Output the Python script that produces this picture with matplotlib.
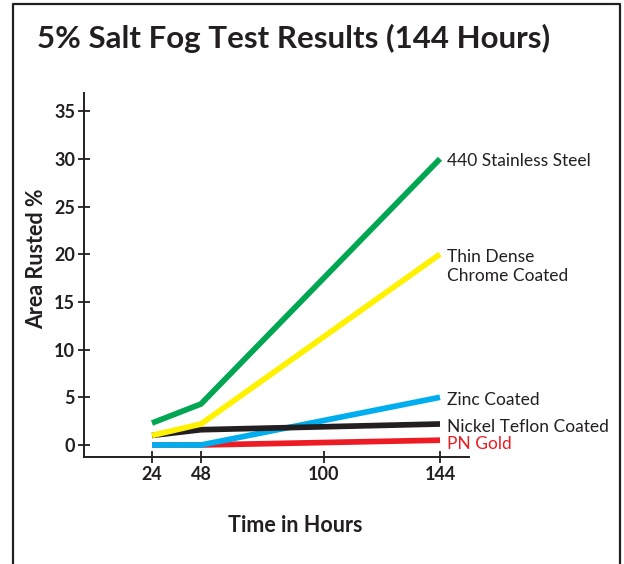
import sys
import numpy as np
import matplotlib
matplotlib.use("Agg")
import matplotlib.pyplot as plt
from matplotlib.lines import Line2D

plt.rcParams['font.family'] = ['Lato', 'DejaVu Sans']

# datos
horas = [24, 48, 144]
acero_440 = [2.3, 4.3, 30]
cromo = [1.0, 2.2, 20]
zinc = [0.0, 0.0, 5.0]
niquel = [1.0, 1.6, 2.2]
pn_oro = [0.0, 0.0, 0.5]

ticks_x = [24, 48, 100, 144]
ticks_y = [0, 5, 10, 15, 20, 25, 30, 35]

series = [
    ("PN Gold", pn_oro, '#ed1c24'),
    ("Zinc Coated", zinc, '#00aeef'),
    ("Nickel Teflon Coated", niquel, '#231f20'),
    ("Thin Dense\nChrome Coated", cromo, '#fff200'),
    ("440 Stainless Steel", acero_440, '#00a651'),
]

TXT = '#231f20'
W, H = 624, 564

# el eje x no es lineal en el original: escala por tramos
HK = np.array([24., 48., 100., 144.])
PK = np.array([152., 201., 324., 440.])


def _tramos(v, xs, ys):
    v = np.asarray(v, dtype=float)
    out = np.interp(v, xs, ys)
    sl = (ys[1] - ys[0]) / (xs[1] - xs[0])
    sr = (ys[-1] - ys[-2]) / (xs[-1] - xs[-2])
    izq = v < xs[0]
    der = v > xs[-1]
    out = np.where(izq, ys[0] + (v - xs[0]) * sl, out)
    out = np.where(der, ys[-1] + (v - xs[-1]) * sr, out)
    return out


def fwd(v):
    return _tramos(v, HK, PK)


def inv(v):
    return _tramos(v, PK, HK)


fig = plt.figure(figsize=(W / 100, H / 100), dpi=100)
ax = fig.add_axes([84 / W, 1 - 457 / H, (469 - 84) / W, (457 - 93) / H])
ax.set_xscale('function', functions=(fwd, inv))

for nombre, vals, color in series:
    ax.plot(horas, vals, color=color, lw=4.1, solid_capstyle='butt', clip_on=False)

ax.set_xlim(inv(84), inv(469))
ax.set_ylim(-1.26, 36.9)
ax.set_xticks(ticks_x)
ax.set_xticklabels([str(t) for t in ticks_x])
ax.set_yticks(ticks_y)
ax.minorticks_off()

for s in ['top', 'right']:
    ax.spines[s].set_visible(False)
for s in ['left', 'bottom']:
    ax.spines[s].set_linewidth(1.4)
    ax.spines[s].set_color(TXT)

ax.tick_params(direction='inout', length=9, width=1.3, color=TXT,
               labelsize=13, labelcolor=TXT, pad=2)
for lab in ax.get_xticklabels() + ax.get_yticklabels():
    lab.set_fontweight('bold')

# etiquetas al final de las lineas
desp = {
    "440 Stainless Steel": -2,
    "Thin Dense\nChrome Coated": -12,
    "Zinc Coated": -3,
    "Nickel Teflon Coated": -3,
    "PN Gold": -4,
}
for nombre, vals, color in series:
    ccol = '#ed1c24' if nombre == "PN Gold" else TXT
    ax.annotate(nombre, xy=(horas[-1], vals[-1]), xytext=(7, desp[nombre]),
                textcoords='offset pixels', va='center', ha='left',
                fontsize=12.5, color=ccol, annotation_clip=False,
                linespacing=1.25)

fig.text(37 / W, 1 - 38 / H, "5% Salt Fog Test Results (144 Hours)",
         fontsize=22.5, fontweight='bold', color=TXT, ha='left', va='center')
fig.text(37 / W, 1 - 259 / H, "Area Rusted %", rotation=90, fontsize=15.5,
         fontweight='bold', color=TXT, ha='center', va='center')
fig.text(295 / W, 1 - 525 / H, "Time in Hours", fontsize=15.5,
         fontweight='bold', color=TXT, ha='center', va='center')

# marco
marco = Line2D([13 / W, 13 / W, 620 / W, 620 / W],
               [0, 1 - 4 / H, 1 - 4 / H, 0], transform=fig.transFigure,
               color=TXT, lw=1.6)
fig.add_artist(marco)

fig.savefig("out.png", dpi=100)
